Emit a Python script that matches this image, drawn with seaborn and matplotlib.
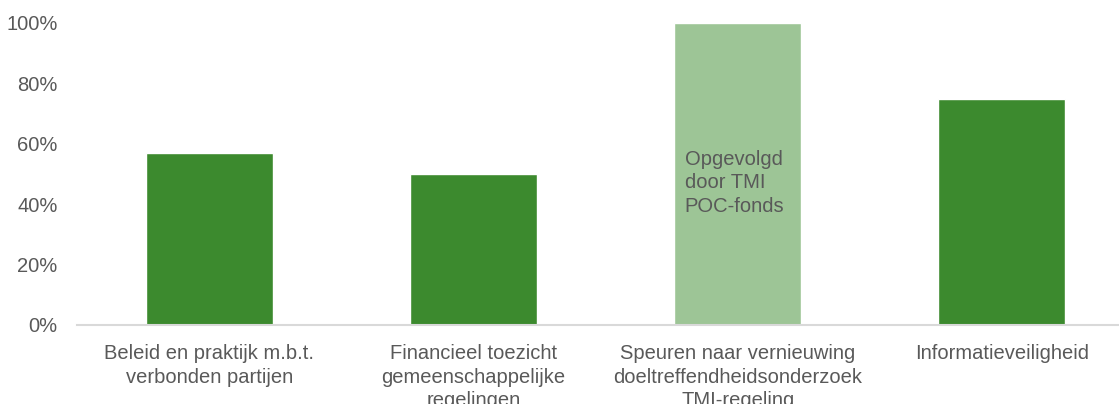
import matplotlib
matplotlib.use("Agg")
import matplotlib.pyplot as plt
import seaborn as sns
import pandas as pd
from matplotlib.ticker import PercentFormatter

categories = [
    "Beleid en praktijk m.b.t.\nverbonden partijen",
    "Financieel toezicht\ngemeenschappelijke\nregelingen",
    "Speuren naar vernieuwing\ndoeltreffendheidsonderzoek\nTMI-regeling",
    "Informatieveiligheid",
]
values = [0.57, 0.50, 1.00, 0.75]
bar_colors = ["#3C8A2E", "#3C8A2E", "#9DC596", "#3C8A2E"]
yticks = [0, 0.2, 0.4, 0.6, 0.8, 1.0]
bar_note = "Opgevolgd\ndoor TMI\nPOC-fonds"

sns.set_theme(style="white")
plt.rcParams["font.family"] = ["Liberation Sans", "DejaVu Sans"]
grey = "#595959"
fs = 14.5

fig = plt.figure(figsize=(11.19, 4.04), dpi=100)
W, H = 1119, 404
left, right, bottom, top = 77, 1119, 404 - 325, 404 - 23
ax = fig.add_axes([left / W, bottom / H, (right - left) / W, (top - bottom) / H])

df = pd.DataFrame({"cat": categories, "val": values})
sns.barplot(data=df, x="cat", y="val", hue="cat", palette=bar_colors,
            legend=False, width=0.48, ax=ax, saturation=1)

ax.set_ylim(0, 1.0)
ax.set_xlim(-0.5, 3.5 - 15 / 264)
ax.set_yticks(yticks)
ax.yaxis.set_major_formatter(PercentFormatter(1.0, decimals=0))
ax.set_xlabel("")
ax.set_ylabel("")
for s in ["top", "right", "left"]:
    ax.spines[s].set_visible(False)
ax.spines["bottom"].set_color("#D9D9D9")
ax.spines["bottom"].set_linewidth(1.5)
ax.spines["bottom"].set_clip_on(False)
ax.tick_params(axis="both", length=0, colors=grey, labelsize=fs)
ax.tick_params(axis="y", pad=14)
ax.tick_params(axis="x", pad=14)
for lbl in ax.get_xticklabels():
    lbl.set_linespacing(1.29)
for lbl in ax.get_yticklabels():
    lbl.set_horizontalalignment("right")

ax.text(2 - 0.24 + 0.04, 0.58, bar_note, ha="left", va="top",
        color=grey, fontsize=fs, linespacing=1.29)

fig.savefig("out.png", dpi=100)
